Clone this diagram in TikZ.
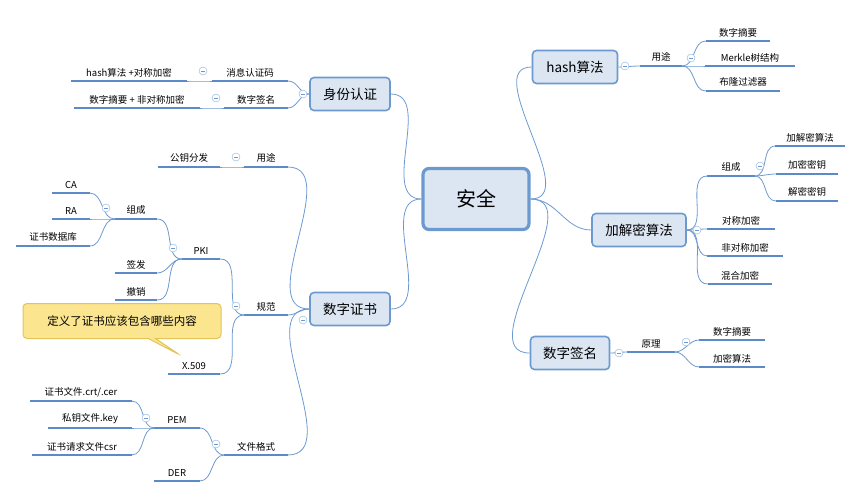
\documentclass[tikz,border=0pt]{standalone}
\usepackage{fontspec}
\setmainfont{Noto Sans CJK SC}
\usetikzlibrary{shapes.callouts}
\definecolor{lineblue}{HTML}{6C9AD0}
\definecolor{barblue}{HTML}{5B8AC6}
\definecolor{boxfill}{HTML}{DCE6F3}
\definecolor{notefill}{HTML}{FBE58F}
\definecolor{notedraw}{HTML}{E3C45A}
\tikzset{
  link/.style={lineblue, line width=0.8pt},
  uline/.style={barblue, line width=2.4pt},
  item/.style={anchor=south, inner xsep=0pt, inner ysep=4pt, font=\fontsize{9.5}{10}\selectfont,
    append after command={(\tikzlastnode.south west) edge[uline] (\tikzlastnode.south east)}},
  topic/.style={draw=lineblue, fill=boxfill, line width=1.6pt, rounded corners=4pt,
    minimum width=80pt, minimum height=33pt, font=\fontsize{13.5}{14}\selectfont},
  fold/.style={circle, draw=lineblue!80, fill=white, minimum size=8pt, inner sep=0pt,
    path picture={\draw[lineblue, line width=0.6pt] ([xshift=-2pt]path picture bounding box.center) -- ([xshift=2pt]path picture bounding box.center);}},
}
\newcommand{\rlink}[2]{\draw[link] (#1) to[out=0,in=180] (#2.south west);}
\newcommand{\llink}[2]{\draw[link] (#1) to[out=180,in=0] (#2.south east);}
\begin{document}
\begin{tikzpicture}[x=1pt, y=-1pt]
\useasboundingbox (0,0) rectangle (867,498);

% centre
\node[topic, line width=3.2pt, rounded corners=6pt, minimum width=106pt, minimum height=61pt, font=\fontsize{20}{22}\selectfont] (root) at (476,199) {安全};

% main topics
\node[topic, minimum width=85pt] (hash) at (575,67) {hash算法};
\node[topic, minimum width=94pt] (crypt) at (639,230) {加解密算法};
\node[topic, minimum width=79pt] (sign) at (570,353) {数字签名};
\node[topic] (auth) at (350,94) {身份认证};
\node[topic] (cert) at (350,309) {数字证书};

\draw[link] (root.east) to[out=0,in=180] (hash.west);
\draw[link] (root.east) to[out=0,in=180] (crypt.west);
\draw[link] (root.east) to[out=0,in=180] (sign.west);
\draw[link] (root.west) to[out=180,in=0] (auth.east);
\draw[link] (root.west) to[out=180,in=0] (cert.east);

% hash
\node[item, minimum width=42pt] (use) at (661,66) {用途};
\node[item, minimum width=64pt] (dig) at (738,41) {数字摘要};
\node[item, minimum width=89pt] (merkle) at (750,66) {Merkle树结构};
\node[item, minimum width=74pt] (bloom) at (743,91) {布隆过滤器};
\rlink{hash.east}{use}
\foreach \n in {dig,merkle,bloom} {\rlink{use.south east}{\n}}

% encryption
\node[item, minimum width=47pt] (parts) at (731,176) {组成};
\node[item, minimum width=67pt] (sym) at (741,229) {对称加密};
\node[item, minimum width=75pt] (asym) at (745,256) {非对称加密};
\node[item, minimum width=64pt] (mixed) at (740,284) {混合加密};
\node[item, minimum width=69pt] (algo) at (810,146) {加解密算法};
\node[item, minimum width=62pt] (enckey) at (807,174) {加密密钥};
\node[item, minimum width=62pt] (deckey) at (807,201) {解密密钥};
\foreach \n in {parts,sym,asym,mixed} {\rlink{crypt.east}{\n}}
\foreach \n in {algo,enckey,deckey} {\rlink{parts.south east}{\n}}

% signature
\node[item, minimum width=47pt] (prin) at (651,352) {原理};
\node[item, minimum width=65pt] (sdig) at (732,340) {数字摘要};
\node[item, minimum width=65pt] (salg) at (732,367) {加密算法};
\rlink{sign.east}{prin}
\foreach \n in {sdig,salg} {\rlink{prin.south east}{\n}}

% authentication
\node[item, minimum width=76pt] (mac) at (250,81) {消息认证码};
\node[item, minimum width=63pt] (asign) at (256,108) {数字签名};
\node[item, minimum width=115pt] (macd) at (129,81) {hash算法 +对称加密};
\node[item, minimum width=125pt] (asignd) at (137,108) {数字摘要 + 非对称加密};
\foreach \n in {mac,asign} {\llink{auth.west}{\n}}
\llink{mac.south west}{macd}
\llink{asign.south west}{asignd}

% certificate
\node[item, minimum width=43pt] (cuse) at (266,167) {用途};
\node[item, minimum width=43pt] (spec) at (266,315) {规范};
\node[item, minimum width=63pt] (fmt) at (256,455) {文件格式};
\node[item, minimum width=62pt] (pkdist) at (189,167) {公钥分发};
\node[item, minimum width=38pt] (pki) at (201,259) {PKI};
\node[item, minimum width=52pt] (x509) at (194,374) {X.509};
\node[item, minimum width=42pt] (pparts) at (136,219) {组成};
\node[item, minimum width=42pt] (issue) at (136,273) {签发};
\node[item, minimum width=42pt] (revoke) at (136,300) {撤销};
\node[item, minimum width=37pt] (ca) at (71,193) {CA};
\node[item, minimum width=37pt] (ra) at (71,219) {RA};
\node[item, minimum width=73pt] (db) at (53,246) {证书数据库};
\node[item, minimum width=45pt] (pem) at (177,428) {PEM};
\node[item, minimum width=45pt] (der) at (177,481) {DER};
\node[item, minimum width=101pt] (crt) at (81,401) {证书文件.crt/.cer};
\node[item, minimum width=84pt] (key) at (90,428) {私钥文件.key};
\node[item, minimum width=99pt] (csr) at (82,455) {证书请求文件csr};
\foreach \n in {cuse,spec,fmt} {\llink{cert.west}{\n}}
\llink{cuse.south west}{pkdist}
\foreach \n in {pki,x509} {\llink{spec.south west}{\n}}
\foreach \n in {pparts,issue,revoke} {\llink{pki.south west}{\n}}
\foreach \n in {ca,ra,db} {\llink{pparts.south west}{\n}}
\foreach \n in {pem,der} {\llink{fmt.south west}{\n}}
\foreach \n in {crt,key,csr} {\llink{pem.south west}{\n}}

% fold markers
\foreach \p [count=\i] in {(625,66),(691,58),(697,230),(760,166),(619,353),(686,342),
  (303,94),(203,71),(216,98),(303,320),(236,157),(236,306),(173,248),(106,208),(216,444),(146,418)}
  {\node[fold] (f\i) at \p {};}

% note
\node[rectangle callout, rounded corners=4pt, draw=notedraw, fill=notefill, line width=1pt,
  minimum width=198pt, minimum height=35pt, font=\fontsize{11.5}{12}\selectfont,
  callout absolute pointer={(180,355)}] (note) at (122,321) {定义了证书应该包含哪些内容};
\end{tikzpicture}
\end{document}
